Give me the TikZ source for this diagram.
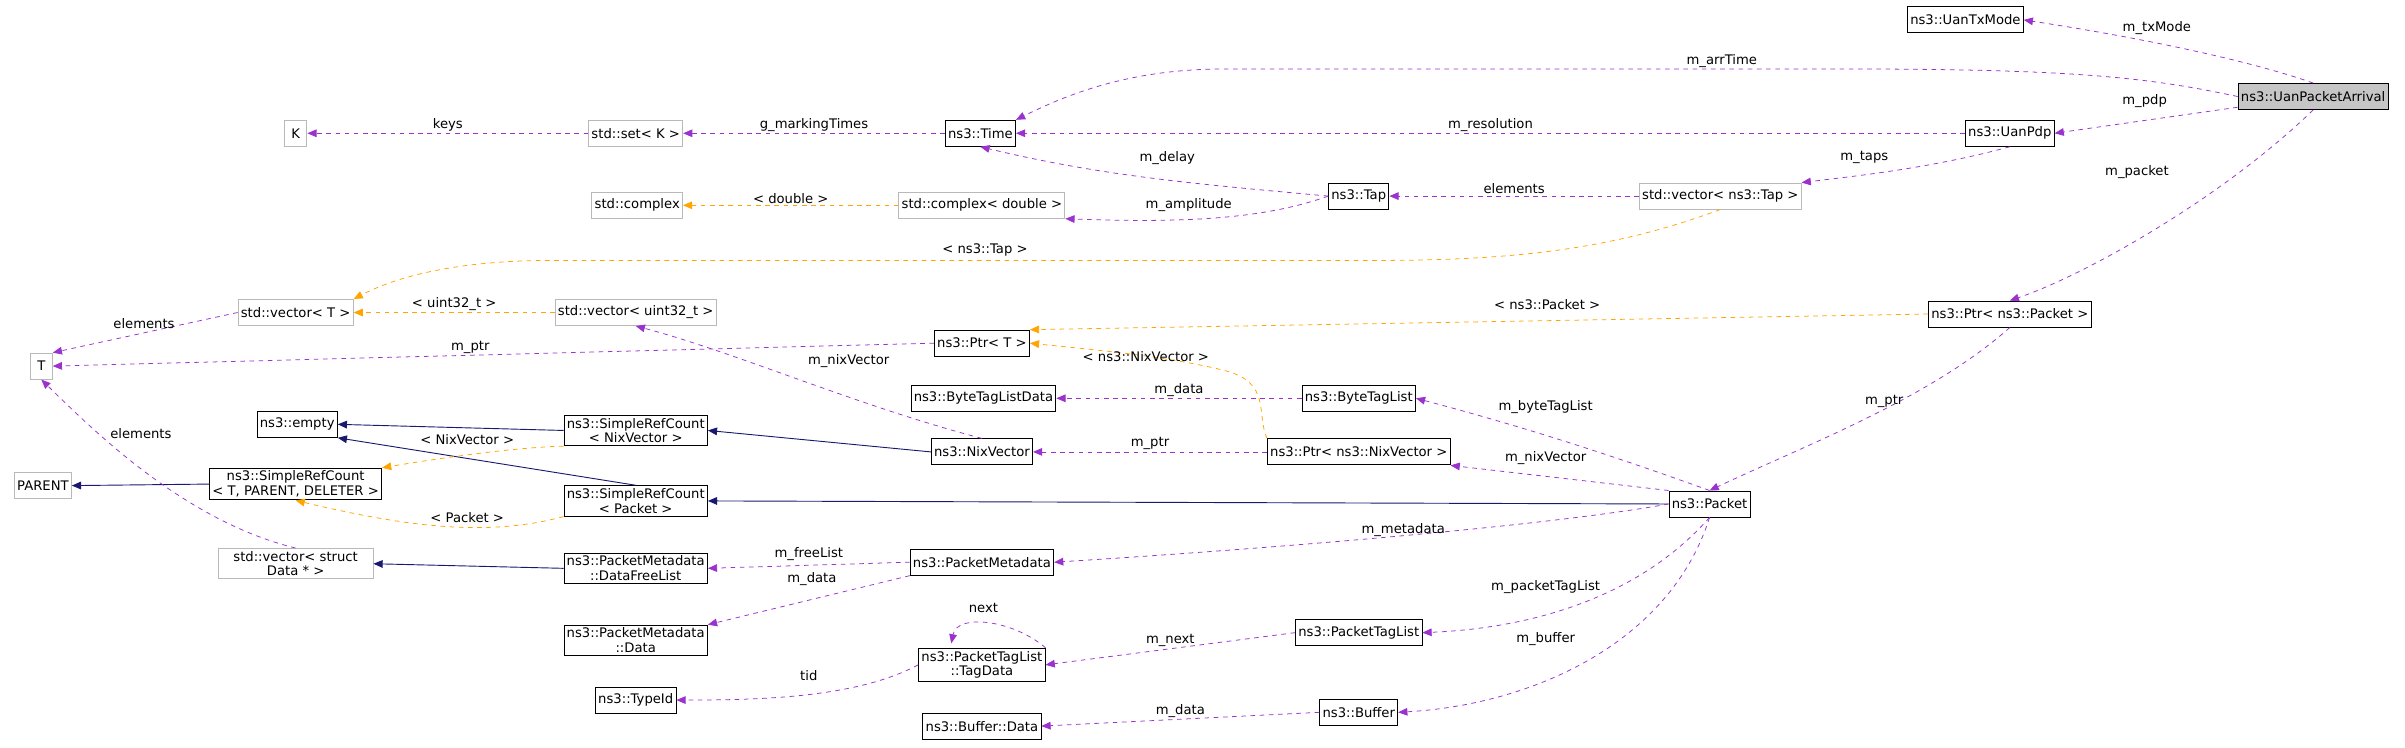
\documentclass[tikz,border=0pt]{standalone}
\usepackage{fontspec}
\setmainfont{DejaVu Sans}
\usetikzlibrary{arrows.meta}
\definecolor{pur}{RGB}{154,50,205}
\definecolor{org}{RGB}{255,165,0}
\definecolor{nav}{RGB}{25,25,112}
\begin{document}
\begin{tikzpicture}[x=1pt,y=-1pt,
 b/.style={draw=black,fill=white,font=\fontsize{8.6}{9.6}\selectfont,inner sep=1.8pt,minimum height=17pt,align=center,line width=0.6pt},
 g/.style={b,draw=gray!55},
 lb/.style={font=\fontsize{8.6}{9.6}\selectfont,inner sep=1pt,text=black},
 u/.style={draw=pur,dashed,line width=0.5pt,-{Triangle[length=6pt,width=5pt,fill=pur]}},
 o/.style={draw=org,dashed,line width=0.5pt,-{Triangle[length=6pt,width=5pt,fill=org]}},
 h/.style={draw=nav,line width=0.6pt,-{Triangle[length=6pt,width=5pt,fill=nav]}}]
\useasboundingbox (0,0) rectangle (1570,488);
\node[b] (txm) at (1283,13) {ns3::UanTxMode};
\node[b,fill=gray!45] (upa) at (1510,63) {ns3::UanPacketArrival};
\node[g] (K) at (193,87) {\ K\ };
\node[g] (setK) at (415,87) {std::set< K >};
\node[b] (time) at (640,87) {ns3::Time};
\node[b] (pdp) at (1312,87) {ns3::UanPdp};
\node[g] (cplx) at (416,134) {std::complex};
\node[g] (cplxd) at (641,134) {std::complex< double >};
\node[b] (tap) at (887,128) {ns3::Tap};
\node[g] (vtap) at (1123,128) {std::vector< ns3::Tap >};
\node[g] (vT) at (193,204) {std::vector< T >};
\node[g] (vu) at (415,204) {std::vector< uint32\_t >};
\node[b] (ptrT) at (641,224) {ns3::Ptr< T >};
\node[b] (ptrP) at (1312,205) {ns3::Ptr< ns3::Packet >};
\node[g] (T) at (27,239) {\ T\ };
\node[b] (btld) at (642,260) {ns3::ByteTagListData};
\node[b] (btl) at (887,260) {ns3::ByteTagList};
\node[b] (empty) at (194,277) {ns3::empty};
\node[b] (srcN) at (415,281) {ns3::SimpleRefCount\\< NixVector >};
\node[b] (nix) at (641,295) {ns3::NixVector};
\node[b] (ptrN) at (887,295) {ns3::Ptr< ns3::NixVector >};
\node[g] (par) at (28,317) {PARENT};
\node[b] (srcT) at (193,316) {ns3::SimpleRefCount\\< T, PARENT, DELETER >};
\node[b] (srcP) at (415,327) {ns3::SimpleRefCount\\< Packet >};
\node[b] (pkt) at (1116,329) {ns3::Packet};
\node[g,minimum width=101pt] (vsd) at (193,368) {std::vector< struct\\Data * >};
\node[b] (dfl) at (415,371) {ns3::PacketMetadata\\::DataFreeList};
\node[b] (pm) at (641,367) {ns3::PacketMetadata};
\node[b] (pmd) at (415,418) {ns3::PacketMetadata\\::Data};
\node[b] (td) at (641,434) {ns3::PacketTagList\\::TagData};
\node[b] (ptl) at (887,413) {ns3::PacketTagList};
\node[b] (tid) at (415,457) {ns3::TypeId};
\node[b] (bd) at (641,474) {ns3::Buffer::Data};
\node[b] (buf) at (887,465) {ns3::Buffer};
% edges
\draw[u] (upa.north) .. controls (1470,40) and (1400,25) .. (txm.east);
\node[lb] at (1408,18) {m\_txMode};
\draw[u] (upa.west) .. controls (1400,50) and (1350,45) .. (1200,45) -- (800,45) .. controls (740,45) and (700,60) .. (time.north east);
\node[lb] at (1124,40) {m\_arrTime};
\draw[u] (upa.west|-0,70) -- (pdp.east);
\node[lb] at (1400,66) {m\_pdp};
\draw[u] (upa.south) .. controls (1450,130) and (1360,180) .. (ptrP.north);
\node[lb] at (1395,112) {m\_packet};
\draw[u] (pdp.west) -- (time.east) node[lb,midway,above] {m\_resolution};
\draw[u] (pdp.south) .. controls (1260,110) and (1210,115) .. (vtap.north east);
\node[lb] at (1217,103) {m\_taps};
\draw[u] (vtap.west) -- (tap.east) node[lb,midway,above] {elements};
\draw[o] (vtap.south) .. controls (1060,160) and (1000,170) .. (900,170) -- (360,170) .. controls (300,170) and (260,180) .. (vT.north east);
\node[lb] at (643,163) {< ns3::Tap >};
\draw[u] (tap.west) .. controls (780,120) and (720,115) .. (time.south);
\node[lb] at (762,103) {m\_delay};
\draw[u] (tap.west) .. controls (820,145) and (760,145) .. (cplxd.south east);
\node[lb] at (776,134) {m\_amplitude};
\draw[o] (cplxd.west) -- (cplx.east) node[lb,midway,above] {< double >};
\draw[u] (time.west) -- (setK.east) node[lb,midway,above] {g\_markingTimes};
\draw[u] (setK.west) -- (K.east) node[lb,midway,above] {keys};
\draw[u] (vT.west) -- (T.north east);
\node[lb] at (94,211) {elements};
\draw[o] (vu.west) -- (vT.east) node[lb,midway,above] {< uint32\_t >};
\draw[u] (ptrT.west) -- (T.east);
\node[lb] at (307,227) {m\_ptr};
\draw[o] (ptrP.west) -- (ptrT.north east);
\node[lb] at (1010,199) {< ns3::Packet >};
\draw[o] (ptrN.north west) .. controls (820,270) and (830,250) .. (800,242) .. controls (760,232) and (710,228) .. (ptrT.east);
\node[lb] at (748,233) {< ns3::NixVector >};
\draw[u] (nix.north) .. controls (560,265) and (480,230) .. (vu.south);
\node[lb] at (554,236) {m\_nixVector};
\draw[h] (nix.west) -- (srcN.east);
\draw[h] (srcN.west) -- (empty.east);
\draw[h] (srcP.north) -- (empty.south east);
\draw[h] (srcT.west) -- (par.east);
\draw[o] (srcN.south west) .. controls (340,292) and (300,297) .. (srcT.north east);
\node[lb] at (305,287) {< NixVector >};
\draw[o] (srcP.south west) .. controls (320,350) and (270,345) .. (srcT.south);
\node[lb] at (305,338) {< Packet >};
\draw[u] (vsd.north) .. controls (120,340) and (60,280) .. (T.south);
\node[lb] at (92,283) {elements};
\draw[h] (dfl.west) -- (vsd.east);
\draw[u] (pm.west) -- (dfl.east);
\node[lb] at (528,362) {m\_freeList};
\draw[u] (pm.south west) -- (pmd.north east);
\node[lb] at (530,378) {m\_data};
\draw[h] (pkt.west) -- (srcP.east);
\draw[u] (pkt.west) .. controls (1000,345) and (800,360) .. (pm.east);
\node[lb] at (916,346) {m\_metadata};
\draw[u] (pkt.north) .. controls (1060,300) and (1000,280) .. (btl.east);
\node[lb] at (1009,266) {m\_byteTagList};
\draw[u] (pkt.north west) -- (ptrN.south east);
\node[lb] at (1009,299) {m\_nixVector};
\draw[u] (pkt.south) .. controls (1070,390) and (1000,410) .. (ptl.east);
\node[lb] at (1009,383) {m\_packetTagList};
\draw[u] (pkt.south) .. controls (1090,420) and (1000,460) .. (buf.east);
\node[lb] at (1009,417) {m\_buffer};
\draw[u] (ptrP.south) .. controls (1260,260) and (1180,290) .. (pkt.north);
\node[lb] at (1230,262) {m\_ptr};
\draw[u] (btl.west) -- (btld.east) node[lb,midway,above] {m\_data};
\draw[u] (ptrN.west) -- (nix.east) node[lb,midway,above] {m\_ptr};
\draw[u] (ptl.west) -- (td.east) node[lb,midway,above] {m\_next};
\draw[u] (td.north east) .. controls (662,405) and (625,400) .. (621,420);
\node[lb] at (642,397) {next};
\draw[u] (td.west) .. controls (560,455) and (500,457) .. (tid.east);
\node[lb] at (528,441) {tid};
\draw[u] (buf.west) -- (bd.east) node[lb,midway,above] {m\_data};
\end{tikzpicture}
\end{document}
